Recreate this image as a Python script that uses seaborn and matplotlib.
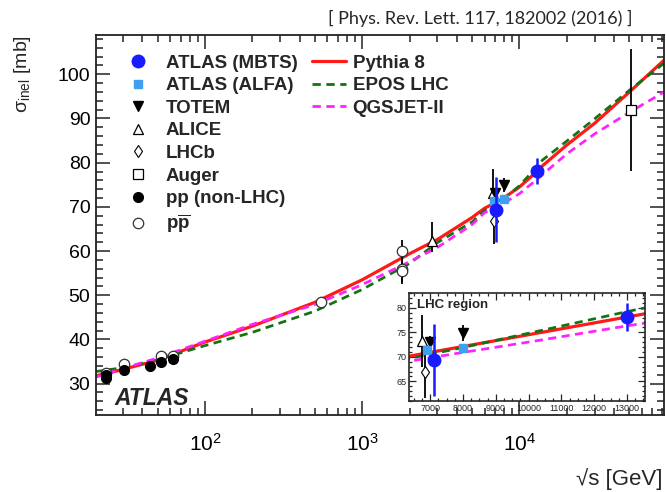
import numpy as np
import pandas as pd
import matplotlib
matplotlib.use("Agg")
import matplotlib.pyplot as plt
import seaborn as sns
from matplotlib.lines import Line2D
from matplotlib.ticker import MultipleLocator, FixedLocator, LogLocator, NullFormatter

# model curves, sigma_inel [mb] vs sqrt(s) [GeV]
energy = [20, 30, 50, 100, 200, 500, 1000, 2000, 3000, 5000, 6000, 7000, 8000,
          10000, 13000, 14000, 20000, 30000, 50000, 83000]
pythia8 = [31.7, 33.2, 35.3, 39.4, 43.0, 48.4, 53.5, 59.4, 62.6, 67.6, 69.7, 70.9, 72.1,
           74.5, 78.1, 79.3, 84.0, 88.9, 96.0, 103.2]
epos_lhc = [32.7, 33.6, 35.4, 38.6, 41.6, 46.4, 51.3, 57.2, 61.9, 66.6, 69.2, 70.5, 71.9,
            74.8, 79.2, 80.6, 84.9, 89.9, 96.4, 102.5]
qgsjet2 = [31.4, 33.4, 35.8, 39.6, 43.4, 47.9, 52.4, 57.6, 60.8, 66.0, 68.7, 69.8, 70.9,
           73.0, 76.3, 77.3, 82.0, 86.5, 91.4, 96.0]

# measurements
mbts_e = [7100, 13000]
mbts_sig = [69.4, 78.1]
mbts_err = [7.3, 2.9]
alfa_e = [6900, 8000]
alfa_sig = [71.3, 71.7]
alfa_err = [0.9, 0.7]
totem_e = [7000, 8000]
totem_sig = [73.1, 74.9]
totem_err = [1.2, 1.6]
alice_e = [2760, 6750]
alice_sig = [62.3, 73.2]
alice_lo = [2.5, 5.3]
alice_hi = [4.3, 5.4]
lhcb_e = [6850]
lhcb_sig = [66.9]
lhcb_err = [5.3]
auger_e = [51000]
auger_sig = [91.9]
auger_err = [13.8]
pp_e = [23.5, 23.5, 30.6, 44.7, 52.8, 62.5]
pp_sig = [32.0, 31.2, 33.0, 34.1, 34.8, 35.6]
ppbar_e = [23.5, 30.4, 52.6, 62.3, 546, 1800, 1800, 1800]
ppbar_sig = [32.3, 34.4, 36.3, 36.3, 48.5, 60.1, 55.9, 55.4]
ppbar_err = [0.4, 0.4, 0.4, 0.4, 1.0, 2.4, 2.8, 2.8]

sns.set_style("ticks")
plt.rcParams['font.family'] = ['Liberation Sans', 'DejaVu Sans']
plt.rcParams['mathtext.fontset'] = 'custom'
plt.rcParams['mathtext.rm'] = 'Liberation Sans'
plt.rcParams['mathtext.it'] = 'Liberation Sans:italic'
plt.rcParams['mathtext.bf'] = 'Liberation Sans:bold'

RED = "#ff1a1a"
GREEN = "#137313"
MAGENTA = "#ff22ff"
BLUE = "#1a1aff"
LBLUE = "#3fa0f0"

models = pd.DataFrame({"E": energy, "Pythia 8": pythia8, "EPOS LHC": epos_lhc,
                       "QGSJET-II": qgsjet2})


def draw_models(ax, lw):
    sns.lineplot(data=models, x="E", y="Pythia 8", ax=ax, color=RED, lw=lw, zorder=2)
    sns.lineplot(data=models, x="E", y="EPOS LHC", ax=ax, color=GREEN, lw=lw * 0.85,
                 linestyle=(0, (3, 2)), zorder=2)
    sns.lineplot(data=models, x="E", y="QGSJET-II", ax=ax, color=MAGENTA, lw=lw * 0.85,
                 linestyle=(0, (3, 2)), zorder=2)


def draw_points(ax, s):
    ax.errorbar(pp_e, pp_sig, fmt='o', color='black', ms=7 * s, zorder=4)
    ax.errorbar(ppbar_e, ppbar_sig, yerr=ppbar_err, fmt='o', mfc='white', mec='#333333',
                ecolor='black', ms=7.5 * s, mew=0.9, elinewidth=1.3, zorder=3)
    ax.errorbar(alice_e, alice_sig, yerr=[alice_lo, alice_hi], fmt='^', mfc='white',
                mec='black', ecolor='black', ms=7 * s, mew=0.9, elinewidth=1.3, zorder=4)
    ax.errorbar(lhcb_e, lhcb_sig, yerr=lhcb_err, fmt='d', mfc='white', mec='black',
                ecolor='black', ms=6 * s, mew=0.8, elinewidth=1.3, zorder=4)
    ax.errorbar(auger_e, auger_sig, yerr=auger_err, fmt='s', mfc='white', mec='black',
                ecolor='black', ms=7.5 * s, mew=0.9, elinewidth=1.3, zorder=4)
    ax.errorbar(totem_e, totem_sig, yerr=totem_err, fmt='v', color='black', ms=6.5 * s,
                elinewidth=1.3, zorder=5)
    ax.errorbar(alfa_e, alfa_sig, yerr=alfa_err, fmt='s', color=LBLUE, ms=6 * s,
                elinewidth=1.3, zorder=5)
    ax.errorbar(mbts_e, mbts_sig, yerr=mbts_err, fmt='o', color=BLUE, ms=9 * s,
                elinewidth=1.8, zorder=6)


fig = plt.figure(figsize=(6.66, 4.92), dpi=100)
ax = fig.add_axes([0.1441, 0.1565, 0.853, 0.7724])
draw_models(ax, 2.3)
draw_points(ax, 1.0)
ax.set_xscale('log')
ax.set_xlim(20.3, 83000)
ax.set_ylim(22.9, 108.9)
ax.yaxis.set_major_locator(MultipleLocator(10))
ax.yaxis.set_minor_locator(MultipleLocator(2))
ax.xaxis.set_major_locator(FixedLocator([100, 1000, 10000]))
ax.xaxis.set_minor_locator(LogLocator(base=10, subs=np.arange(2, 10)))
ax.xaxis.set_minor_formatter(NullFormatter())
ax.set_xticklabels([r"$10^{2}$", r"$10^{3}$", r"$10^{4}$"], fontsize=15)
ax.tick_params(axis='both', which='both', direction='in', top=True, right=True,
               width=1.1, colors='#222222')
ax.tick_params(axis='both', which='major', length=10)
ax.tick_params(axis='both', which='minor', length=5)
ax.tick_params(axis='x', which='major', pad=13, labelcolor='black')
ax.tick_params(axis='y', which='major', pad=4, labelsize=14, labelcolor='black')
for sp in ax.spines.values():
    sp.set_linewidth(1.3)
    sp.set_color('#222222')
ax.set_xlabel("√s [GeV]", fontsize=16, loc='right')
ax.xaxis.set_label_coords(0.997, -0.14)
ax.set_ylabel(r"σ$_{\rm inel}$ [mb]", fontsize=14, loc='top')
ax.yaxis.set_label_coords(-0.11, 1.0)
ax.text(0.033, 0.026, "ATLAS", transform=ax.transAxes, fontsize=16.5,
        fontweight='bold', fontstyle='italic')

# legends
h1 = [
    Line2D([], [], ls='none', marker='o', color=BLUE, ms=9),
    Line2D([], [], ls='none', marker='s', color=LBLUE, ms=6),
    Line2D([], [], ls='none', marker='v', color='black', ms=6.5),
    Line2D([], [], ls='none', marker='^', mfc='white', mec='black', ms=7, mew=0.9),
    Line2D([], [], ls='none', marker='d', mfc='white', mec='black', ms=6, mew=0.8),
    Line2D([], [], ls='none', marker='s', mfc='white', mec='black', ms=7.5, mew=0.9),
    Line2D([], [], ls='none', marker='o', color='black', ms=7),
    Line2D([], [], ls='none', marker='o', mfc='white', mec='#333333', ms=7.5, mew=0.9),
]
l1 = ["ATLAS (MBTS)", "ATLAS (ALFA)", "TOTEM", "ALICE", "LHCb", "Auger",
      "pp (non-LHC)", r"p$\mathbf{\overline{p}}$"]
leg1 = ax.legend(h1, l1, loc='upper left', bbox_to_anchor=(0.1927, 0.889),
                 bbox_transform=fig.transFigure, frameon=False, borderpad=0,
                 borderaxespad=0, handlelength=1.0, handletextpad=1.0,
                 labelspacing=0.29, prop={'weight': 'bold', 'size': 13.5})
ax.add_artist(leg1)
h2 = [
    Line2D([], [], color=RED, lw=2.3),
    Line2D([], [], color=GREEN, lw=2.0, ls=(0, (3, 2))),
    Line2D([], [], color=MAGENTA, lw=2.0, ls=(0, (3, 2))),
]
ax.legend(h2, ["Pythia 8", "EPOS LHC", "QGSJET-II"], loc='upper left',
          bbox_to_anchor=(0.4685, 0.889), bbox_transform=fig.transFigure,
          frameon=False, borderpad=0, borderaxespad=0, handlelength=1.81,
          handletextpad=0.35, labelspacing=0.29, prop={'weight': 'bold', 'size': 13.5})

# inset: LHC region
ins = fig.add_axes([0.614, 0.185, 0.3544, 0.2195])
ins.set_facecolor('white')
draw_models(ins, 2.3)
draw_points(ins, 1.0)
ins.set_xlim(6350, 13550)
ins.set_ylim(61, 83)
ins.xaxis.set_major_locator(MultipleLocator(1000))
ins.xaxis.set_minor_locator(MultipleLocator(250))
ins.yaxis.set_major_locator(MultipleLocator(5))
ins.yaxis.set_minor_locator(MultipleLocator(1))
ins.tick_params(axis='both', which='both', direction='in', top=True, right=True,
                labelsize=6.5, width=0.9)
ins.tick_params(axis='both', which='major', length=5, pad=2)
ins.tick_params(axis='both', which='minor', length=2.5)
ins.set_xlabel("")
ins.set_ylabel("")
for sp in ins.spines.values():
    sp.set_linewidth(1.2)
ins.text(0.035, 0.94, "LHC region", transform=ins.transAxes, fontsize=9.5,
         fontweight='bold', va='top')

fig.text(0.7207, 0.963, "[ Phys. Rev. Lett. 117, 182002 (2016) ]", ha='center',
         va='center', fontsize=13, family=['Lato', 'DejaVu Sans'])

plt.savefig("out.png", dpi=100)
